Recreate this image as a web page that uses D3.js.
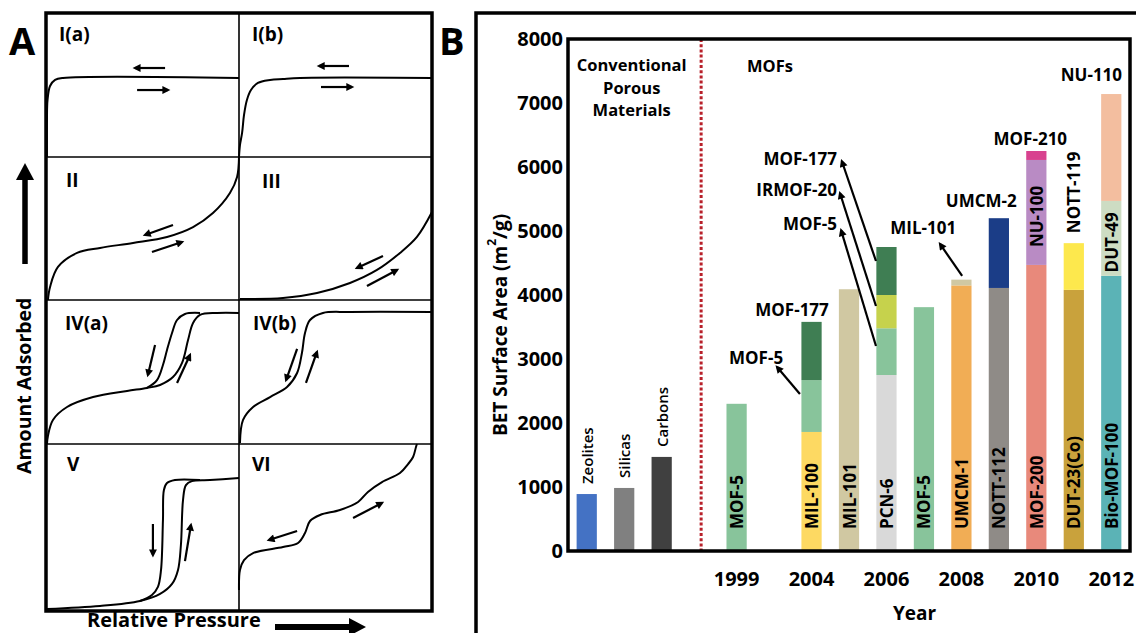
<!DOCTYPE html>
<html>
<head>
<meta charset="utf-8">
<script src="https://cdn.jsdelivr.net/npm/d3@7"></script>
<style>
  body { margin: 0; background: #fff; }
  text { font-family: "Open Sans", sans-serif; font-weight: 700; fill: #000; }
</style>
</head>
<body>
<svg id="chart" width="1136" height="633"></svg>
<script>
// ---------------- panel A data (isotherm sketches, 0-100 units per cell) ----------------
var isoTypes = ["I(a)", "I(b)", "II", "III", "IV(a)", "IV(b)", "V", "VI"];

var isoCurves = [
  {type: "I(a)", pts: [[0.5,0],[0.5,25.7],[0.8,39.6],[2.1,49.3],[4.7,53.5],[8.8,54.9],[100,54.9]]},
  {type: "I(b)", pts: [[0,0],[0.5,8.3],[1.6,16.7],[2.6,29.2],[4.1,39.6],[6.2,46.5],[9.8,51.4],[16.1,53.5],[22.8,54.2],[31.6,54.9],[100,54.9]]},
  {type: "II", pts: [[1,0],[2.1,9.1],[6.2,23.1],[16.1,32.9],[28,36.4],[45.1,39.9],[62.7,44.1],[76.2,51],[86.5,60.8],[95.3,74.8],[99,86],[100,100]]},
  {type: "III", pts: [[0.5,0.7],[22.8,1.4],[40.4,4.9],[57.5,11.9],[71.5,21],[83.4,32.9],[92.2,44.1],[100,61.5]]},
  {type: "IV(a)", pts: [[0.5,0],[1,5.6],[3.6,16.7],[10.9,25.7],[24.4,32.6],[42,36.8],[52.3,38.9],[59.1,41],[65.8,46.5],[70.5,56.3],[73.6,72.2],[76.2,84],[79.8,89.6],[88.6,91],[100,91]]},
  {type: "IV(a)", pts: [[52.3,38.9],[57.5,44.4],[60.6,54.9],[62.7,65.3],[65.3,77.1],[67.9,86.1],[72,90.3],[79.8,91]]},
  {type: "IV(b)", pts: [[0.5,0.7],[2.1,16.7],[7.3,25.7],[16.1,32.6],[24.9,39.6],[30.1,49.3],[32.6,63.2],[34.2,77.1],[36.8,86.1],[43.5,91],[57.5,91.7],[100,91.7]]},
  {type: "V", pts: [[0.5,1.2],[28,3],[48.7,6],[59.1,10.2],[65.3,16.2],[68.4,24.6],[69.9,39.5],[71,66.5],[72.5,75.4],[75.6,77.8],[85,78.4],[100,79.6]]},
  {type: "V", pts: [[48.7,6],[54.9,9.6],[58,14.4],[59.6,24.6],[60.6,54.5],[61.1,72.5],[62.7,76.6],[66.8,78.4],[79.8,78.4]]},
  {type: "VI", pts: [[0,12.6],[0.5,24.6],[2.6,30.5],[7.3,34.7],[22.8,38.3],[30.6,40.7],[34.2,46.7],[36.8,53.9],[42,57.5],[52.3,60.5],[61.7,65.3],[66.8,71.3],[74.1,77.2],[83.4,82.6],[87.6,88],[90.2,92.2],[91.7,98.2],[92.2,100]]}
];

// arrows: [x1, y1, x2, y2], head at (x2, y2)
var isoArrows = [
  {type: "I(a)", a: [61.7,61.8,46.1,61.8]}, {type: "I(a)", a: [47.2,46.5,63.2,46.5]},
  {type: "I(b)", a: [57,63.2,41.5,63.2]}, {type: "I(b)", a: [42.5,48.6,58.5,48.6]},
  {type: "II", a: [65.8,52.4,51.3,45.5]}, {type: "II", a: [54.9,33.6,70.5,40.6]},
  {type: "III", a: [74.6,30.8,61.1,22.4]}, {type: "III", a: [66.3,9.8,81.9,21]},
  {type: "IV(a)", a: [56.5,68.8,52.8,47.9]}, {type: "IV(a)", a: [67.9,42.4,74.6,61.8]},
  {type: "IV(b)", a: [30.1,66,24.4,44.4]}, {type: "IV(b)", a: [34.7,42.4,40.4,63.9]},
  {type: "V", a: [55.4,52.1,55.4,33.5]}, {type: "V", a: [72,29.9,75.1,51.5]},
  {type: "VI", a: [30.1,47.9,15.5,42.5]}, {type: "VI", a: [59.1,55.7,74.1,64.7]}
];

// ---------------- panel B data ----------------
var slots = ["Zeolites", "Silicas", "Carbons", "divider", "1999", "2003", "2004", "2005",
             "2006", "2007", "2008", "2009", "2010", "2011", "2012"];
var yearTicks = ["1999", "2004", "2006", "2008", "2010", "2012"];
var yTicks = [0, 1000, 2000, 3000, 4000, 5000, 6000, 7000, 8000];

// cumulative top of every stacked segment (m2/g)
var barSegments = [
  {slot: "Zeolites", name: "Zeolites", top: 890},
  {slot: "Silicas", name: "Silicas", top: 985},
  {slot: "Carbons", name: "Carbons", top: 1470},
  {slot: "1999", name: "MOF-5", top: 2300},
  {slot: "2004", name: "MIL-100", top: 1860},
  {slot: "2004", name: "MOF-5", top: 2670},
  {slot: "2004", name: "MOF-177", top: 3580},
  {slot: "2005", name: "MIL-101", top: 4090},
  {slot: "2006", name: "PCN-6", top: 2750},
  {slot: "2006", name: "MOF-5", top: 3480},
  {slot: "2006", name: "IRMOF-20", top: 4000},
  {slot: "2006", name: "MOF-177", top: 4750},
  {slot: "2007", name: "MOF-5", top: 3810},
  {slot: "2008", name: "UMCM-1", top: 4150},
  {slot: "2008", name: "MIL-101", top: 4240},
  {slot: "2009", name: "NOTT-112", top: 4110},
  {slot: "2009", name: "UMCM-2", top: 5200},
  {slot: "2010", name: "MOF-200", top: 4470},
  {slot: "2010", name: "NU-100", top: 6110},
  {slot: "2010", name: "MOF-210", top: 6250},
  {slot: "2011", name: "DUT-23(Co)", top: 4080},
  {slot: "2011", name: "NOTT-119", top: 4810},
  {slot: "2012", name: "Bio-MOF-100", top: 4300},
  {slot: "2012", name: "DUT-49", top: 5470},
  {slot: "2012", name: "NU-110", top: 7140}
];

var materials = ["Zeolites", "Silicas", "Carbons", "MOF-5", "MIL-100", "MOF-177", "MIL-101", "PCN-6",
                 "IRMOF-20", "UMCM-1", "NOTT-112", "UMCM-2", "MOF-200", "NU-100", "MOF-210",
                 "DUT-23(Co)", "NOTT-119", "Bio-MOF-100", "DUT-49", "NU-110"];
var materialColors = ["#4472c4", "#808080", "#404040", "#88c49b", "#fdd962", "#3f7e53", "#d0c8a2", "#d9d9d9",
                      "#c6d24c", "#f1ad55", "#8f8b87", "#1b3d87", "#e8897b", "#b98bc4", "#d8428f",
                      "#c9a23c", "#fde84d", "#5bb3b6", "#cddcc3", "#f3be9f"];

var midLabels = ["NU-100", "DUT-49"];
var aboveLabels = ["Zeolites", "Silicas", "Carbons", "NOTT-119"];

// horizontal callouts: slot index, value, optional arrow [i1, v1, i2, v2]
var callouts = [
  {text: "MOF-177", i: 5.48, v: 3766},
  {text: "MOF-5", i: 4.52, v: 3016, arrow: [5.69, 2453, 5.08, 2875]},
  {text: "MOF-177", i: 6.68, v: 6140, anchor: "end", arrow: [7.72, 4531, 6.81, 6090]},
  {text: "IRMOF-20", i: 6.68, v: 5656, anchor: "end", arrow: [7.72, 3828, 6.76, 5590]},
  {text: "MOF-5", i: 6.68, v: 5125, anchor: "end", arrow: [7.72, 3203, 6.79, 5010]},
  {text: "MIL-101", i: 8.98, v: 5047, arrow: [10.02, 4297, 9.43, 4797]},
  {text: "UMCM-2", i: 10.53, v: 5469},
  {text: "MOF-210", i: 11.84, v: 6453},
  {text: "NU-110", i: 13.47, v: 7438}
];

var sectionLabels = [
  {text: "Conventional", i: 1.2, v: 7600},
  {text: "Porous", i: 1.2, v: 7250},
  {text: "Materials", i: 1.2, v: 6900},
  {text: "MOFs", i: 4.89, v: 7580}
];

// ---------------- drawing ----------------
var svg = d3.select("#chart");

var defs = svg.append("defs");
defs.append("marker")
    .attr("id", "head")
    .attr("viewBox", "0 0 10 10")
    .attr("refX", 7).attr("refY", 5)
    .attr("markerUnits", "userSpaceOnUse")
    .attr("markerWidth", 9).attr("markerHeight", 8)
    .attr("orient", "auto")
    .append("path").attr("d", "M0,0L10,5L0,10Z").attr("fill", "#000");

// ---- panel A ----
var colEdges = [46, 239, 432];
var rowEdges = [13, 157, 300, 444, 611];
var labelOffsets = [[13, 28], [13, 28], [20, 30], [23, 31], [19, 30], [14, 30], [21, 27], [13, 27]];

var panelA = svg.append("g").attr("id", "panelA");

var line = d3.line()
    .curve(d3.curveCatmullRom.alpha(0.5));

isoTypes.forEach(function(t, k) {
    var c = k % 2, r = Math.floor(k / 2);
    var sx = d3.scaleLinear().domain([0, 100]).range([colEdges[c], colEdges[c + 1]]);
    var sy = d3.scaleLinear().domain([0, 100]).range([rowEdges[r + 1], rowEdges[r]]);

    line.x(function(d) { return sx(d[0]); }).y(function(d) { return sy(d[1]); });

    panelA.selectAll(null)
        .data(isoCurves.filter(function(d) { return d.type === t; }))
        .enter().append("path")
        .attr("d", function(d) { return line(d.pts); })
        .attr("fill", "none")
        .attr("stroke", "#000")
        .attr("stroke-width", 2);

    panelA.selectAll(null)
        .data(isoArrows.filter(function(d) { return d.type === t; }))
        .enter().append("line")
        .attr("x1", function(d) { return sx(d.a[0]); })
        .attr("y1", function(d) { return sy(d.a[1]); })
        .attr("x2", function(d) { return sx(d.a[2]); })
        .attr("y2", function(d) { return sy(d.a[3]); })
        .attr("stroke", "#000")
        .attr("stroke-width", 2.2)
        .attr("marker-end", "url(#head)");

    panelA.append("text")
        .attr("x", colEdges[c] + labelOffsets[k][0])
        .attr("y", rowEdges[r] + labelOffsets[k][1])
        .style("font-size", "19px")
        .text(t);
});

// grid lines
panelA.append("line").attr("x1", colEdges[1]).attr("x2", colEdges[1])
    .attr("y1", rowEdges[0]).attr("y2", rowEdges[4])
    .attr("stroke", "#000").attr("stroke-width", 1.6);
panelA.selectAll(null).data(rowEdges.slice(1, 4)).enter().append("line")
    .attr("x1", colEdges[0]).attr("x2", colEdges[2])
    .attr("y1", function(d) { return d; }).attr("y2", function(d) { return d; })
    .attr("stroke", "#000").attr("stroke-width", 1.6);
panelA.append("rect")
    .attr("x", colEdges[0]).attr("y", rowEdges[0])
    .attr("width", colEdges[2] - colEdges[0]).attr("height", rowEdges[4] - rowEdges[0])
    .attr("fill", "none").attr("stroke", "#000").attr("stroke-width", 3.5);

// axis captions for panel A
svg.append("text")
    .attr("transform", "translate(23,474) rotate(-90)")
    .attr("dominant-baseline", "central")
    .style("font-size", "19.5px")
    .text("Amount Adsorbed");
svg.append("line").attr("x1", 25).attr("x2", 25).attr("y1", 264).attr("y2", 178)
    .attr("stroke", "#000").attr("stroke-width", 5.5);
svg.append("path").attr("d", "M16,180L25,163L34,180Z").attr("fill", "#000");

svg.append("text")
    .attr("x", 87).attr("y", 627)
    .style("font-size", "20px")
    .text("Relative Pressure");
svg.append("line").attr("x1", 275).attr("x2", 351).attr("y1", 627).attr("y2", 627)
    .attr("stroke", "#000").attr("stroke-width", 6);
svg.append("path").attr("d", "M349,618L366,627L349,636Z").attr("fill", "#000");

svg.append("text").attr("x", 9).attr("y", 55).style("font-size", "38px").text("A");
svg.append("text").attr("x", 439).attr("y", 55).style("font-size", "38px").text("B");

// ---- panel B ----
svg.append("rect")
    .attr("x", 476).attr("y", 13).attr("width", 720).attr("height", 700)
    .attr("fill", "none").attr("stroke", "#000").attr("stroke-width", 3.5);

var plot = {left: 568, right: 1130, top: 39, bottom: 551};

var x = d3.scaleBand().domain(slots)
    .range([plot.left, plot.right])
    .paddingInner(0.46).paddingOuter(0.23);
var xi = d3.scaleLinear().domain([0, slots.length - 1])
    .range([x(slots[0]) + x.bandwidth() / 2, x(slots[slots.length - 1]) + x.bandwidth() / 2]);
var y = d3.scaleLinear().domain([0, 8000]).range([plot.bottom, plot.top]);
var color = d3.scaleOrdinal(materials, materialColors);

var panelB = svg.append("g").attr("id", "panelB");

// stack the segments
var prevTop = {};
barSegments.forEach(function(d) {
    d.bottom = prevTop[d.slot] || 0;
    prevTop[d.slot] = d.top;
});

panelB.selectAll("rect.seg")
    .data(barSegments)
    .enter().append("rect")
    .attr("class", "seg")
    .attr("x", function(d) { return x(d.slot); })
    .attr("width", x.bandwidth())
    .attr("y", function(d) { return y(d.top); })
    .attr("height", function(d) { return y(d.bottom) - y(d.top); })
    .attr("fill", function(d) { return color(d.name); });

// labels at the foot of every MOF bar
var baseSegs = barSegments.filter(function(d) {
    return d.bottom === 0 && slots.indexOf(d.slot) > 3;
});
panelB.selectAll("text.base")
    .data(baseSegs)
    .enter().append("text")
    .attr("class", "base")
    .attr("transform", function(d) {
        return "translate(" + (x(d.slot) + x.bandwidth() / 2) + "," + (y(0) - 22) + ") rotate(-90)";
    })
    .attr("dominant-baseline", "central")
    .style("font-size", "17px")
    .text(function(d) { return d.name; });

panelB.selectAll("text.mid")
    .data(barSegments.filter(function(d) { return midLabels.indexOf(d.name) >= 0; }))
    .enter().append("text")
    .attr("class", "mid")
    .attr("transform", function(d) {
        return "translate(" + (x(d.slot) + x.bandwidth() / 2) + "," + (y((d.top + d.bottom) / 2) + 4) + ") rotate(-90)";
    })
    .attr("text-anchor", "middle")
    .attr("dominant-baseline", "central")
    .style("font-size", "17px")
    .text(function(d) { return d.name; });

panelB.selectAll("text.above")
    .data(barSegments.filter(function(d) { return aboveLabels.indexOf(d.name) >= 0; }))
    .enter().append("text")
    .attr("class", "above")
    .attr("transform", function(d) {
        return "translate(" + (x(d.slot) + x.bandwidth() / 2) + "," + (y(d.top) - 10) + ") rotate(-90)";
    })
    .attr("dominant-baseline", "central")
    .style("font-size", function(d) { return d.name === "NOTT-119" ? "17px" : "15px"; })
    .style("font-weight", function(d) { return d.name === "NOTT-119" ? 700 : 600; })
    .text(function(d) { return d.name; });

// divider between conventional materials and MOFs
panelB.append("line")
    .attr("x1", xi(3) + 2).attr("x2", xi(3) + 2)
    .attr("y1", plot.top).attr("y2", plot.bottom)
    .attr("stroke", "#b8202a").attr("stroke-width", 3)
    .attr("stroke-dasharray", "3,2.2");

// callouts and arrows
panelB.selectAll("line.callout")
    .data(callouts.filter(function(d) { return d.arrow; }))
    .enter().append("line")
    .attr("class", "callout")
    .attr("x1", function(d) { return xi(d.arrow[0]); })
    .attr("y1", function(d) { return y(d.arrow[1]); })
    .attr("x2", function(d) { return xi(d.arrow[2]); })
    .attr("y2", function(d) { return y(d.arrow[3]); })
    .attr("stroke", "#000").attr("stroke-width", 2.2)
    .attr("marker-end", "url(#head)");

panelB.selectAll("text.callout")
    .data(callouts)
    .enter().append("text")
    .attr("class", "callout")
    .attr("x", function(d) { return xi(d.i); })
    .attr("y", function(d) { return y(d.v); })
    .attr("text-anchor", function(d) { return d.anchor || "middle"; })
    .attr("dominant-baseline", "central")
    .style("font-size", "17px")
    .text(function(d) { return d.text; });

panelB.selectAll("text.section")
    .data(sectionLabels)
    .enter().append("text")
    .attr("class", "section")
    .attr("x", function(d) { return xi(d.i); })
    .attr("y", function(d) { return y(d.v); })
    .attr("text-anchor", "middle")
    .attr("dominant-baseline", "central")
    .style("font-size", "16.5px")
    .text(function(d) { return d.text; });

// axes
var yAxis = panelB.append("g")
    .attr("transform", "translate(" + plot.left + ",0)")
    .call(d3.axisLeft(y).tickValues(yTicks).tickFormat(d3.format("d")).tickSize(0).tickPadding(5));
yAxis.select(".domain").remove();
yAxis.selectAll("text")
    .style("font-family", "'Open Sans', sans-serif")
    .style("font-weight", 700)
    .style("font-size", "20px")
    .attr("fill", "#000");

var xAxis = panelB.append("g")
    .attr("transform", "translate(0," + plot.bottom + ")")
    .call(d3.axisBottom(x).tickValues(yearTicks).tickSize(0).tickPadding(21));
xAxis.select(".domain").remove();
xAxis.selectAll("text")
    .style("font-family", "'Open Sans', sans-serif")
    .style("font-weight", 700)
    .style("font-size", "20px")
    .attr("fill", "#000");

panelB.append("rect")
    .attr("x", plot.left).attr("y", plot.top)
    .attr("width", plot.right - plot.left).attr("height", plot.bottom - plot.top)
    .attr("fill", "none").attr("stroke", "#000").attr("stroke-width", 3.5);

panelB.append("text")
    .attr("x", (xi(3) + plot.right) / 2)
    .attr("y", 613)
    .attr("text-anchor", "middle")
    .attr("dominant-baseline", "central")
    .style("font-size", "19px")
    .text("Year");

var yTitle = panelB.append("text")
    .attr("transform", "translate(500,436) rotate(-90)")
    .attr("dominant-baseline", "central")
    .style("font-size", "19px");
yTitle.append("tspan").text("BET Surface Area (m");
yTitle.append("tspan").attr("baseline-shift", "super").style("font-size", "12px").text("2");
yTitle.append("tspan").text("/g)");
</script>
</body>
</html>
